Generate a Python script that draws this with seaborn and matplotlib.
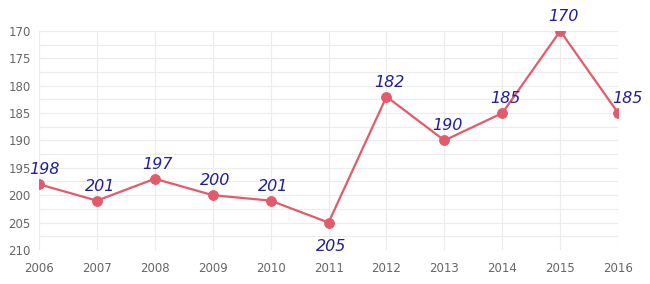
import matplotlib
matplotlib.use("Agg")
import matplotlib.pyplot as plt
import seaborn as sns
import pandas as pd
from matplotlib.ticker import MultipleLocator

years = [2006, 2007, 2008, 2009, 2010, 2011, 2012, 2013, 2014, 2015, 2016]
values = [198, 201, 197, 200, 201, 205, 182, 190, 185, 170, 185]
y_ticks = [170, 175, 180, 185, 190, 195, 200, 205, 210]

df = pd.DataFrame({"year": years, "value": values})

sns.set_theme(style="white")
plt.rcParams['font.family'] = ['DejaVu Sans']

fig = plt.figure(figsize=(6.5, 2.84), dpi=100)
ax = fig.add_axes([0.06, 0.12, 0.891, 0.771])

line_color = "#e35b6b"
sns.lineplot(data=df, x="year", y="value", ax=ax, color=line_color, linewidth=1.6,
             marker="o", markersize=7, markeredgecolor=line_color, markerfacecolor=line_color)

ax.set_xlim(2006, 2016)
ax.set_ylim(210, 170)
ax.set_xticks(years)
ax.set_xticklabels([str(y) for y in years])
ax.set_yticks(y_ticks)
ax.yaxis.set_minor_locator(MultipleLocator(2.5))
ax.grid(True, which="both", color="#ececec", linewidth=0.8)
ax.set_axisbelow(True)
for s in ax.spines.values():
    s.set_visible(False)
ax.tick_params(axis="both", which="both", length=0, labelsize=8.5, labelcolor="#666666")
ax.tick_params(axis="x", pad=9)
ax.tick_params(axis="y", pad=6)
ax.set_xlabel("")
ax.set_ylabel("")

for x, v in zip(years, values):
    dx = 2
    if x == 2006:
        dx = 4
    elif x == 2016:
        dx = 7
    if x == 2011:
        off = -12
        va = "top"
    else:
        off = 5
        va = "bottom"
    ax.annotate(str(v), (x, v), xytext=(dx, off), textcoords="offset points",
                ha="center", va=va, fontsize=11.5, style="italic", color="#1f1f9e",
                clip_on=False)

fig.savefig("out.png", dpi=100, facecolor="white")
